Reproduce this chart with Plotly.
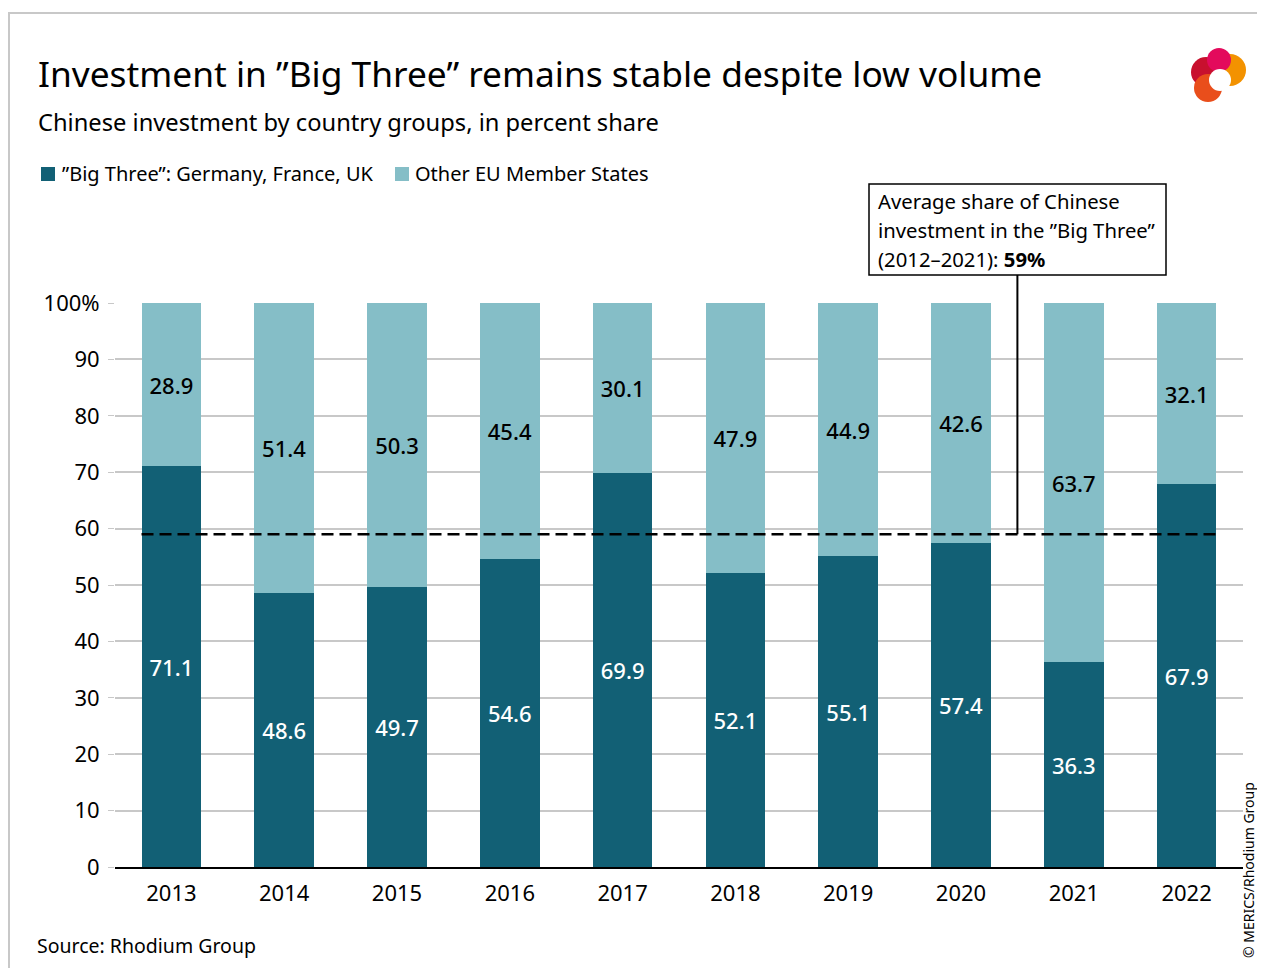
import plotly.graph_objects as go

years = ["2013", "2014", "2015", "2016", "2017", "2018", "2019", "2020", "2021", "2022"]
big_three = [71.1, 48.6, 49.7, 54.6, 69.9, 52.1, 55.1, 57.4, 36.3, 67.9]
other_eu = [28.9, 51.4, 50.3, 45.4, 30.1, 47.9, 44.9, 42.6, 63.7, 32.1]
average_share = 59
y_tickvals = [0, 10, 20, 30, 40, 50, 60, 70, 80, 90, 100]
y_ticktext = ["0", "10", "20", "30", "40", "50", "60", "70", "80", "90", "100%"]
series_names = ["\u201dBig Three\u201d: Germany, France, UK", "Other EU Member States"]
box_lines = ["Average share of Chinese",
             "investment in the \u201dBig Three\u201d",
             "(2012\u20132021): <b>59%</b>"]

DARK = "#126075"
LIGHT = "#85BEC7"
FONT = "Noto Sans"

# page is offset by the default 8px body margin on every side
OFF = 8
PAGE_W, PAGE_H = 1265, 976
W, H = PAGE_W - 2 * OFF, PAGE_H - 2 * OFF
# plot area in page pixels
PL, PR, PT, PB = 115, 1243, 303, 867
L, T = PL - OFF, PT - OFF
R, B = (OFF + W) - PR, (OFF + H) - PB
PW, PH = PR - PL, PB - PT


def px(x):
    return (x - PL) / PW


def py(y):
    return (PB - y) / PH


fig = go.Figure()
fig.add_trace(go.Bar(
    x=years, y=big_three, name=series_names[0],
    marker=dict(color=DARK, line=dict(width=0)),
    text=[f"{v:.1f}" for v in big_three], textposition="inside",
    insidetextanchor="middle", textfont=dict(color="white", size=22, family=FONT, weight=500),
))
fig.add_trace(go.Bar(
    x=years, y=other_eu, name=series_names[1],
    marker=dict(color=LIGHT, line=dict(width=0)),
    text=[f"{v:.1f}" for v in other_eu], textposition="inside",
    insidetextanchor="middle", textfont=dict(color="black", size=22, family=FONT, weight=500),
))

bar_frac = 0.53
n = len(years)
fig.add_shape(type="line", xref="x", yref="y",
              x0=-bar_frac / 2, x1=(n - 1) + bar_frac / 2,
              y0=average_share, y1=average_share,
              line=dict(color="black", width=2.5, dash="12px,6px"), layer="above")
conn_x = (7.5 + 0.5) / n
fig.add_shape(type="line", xref="paper", yref="paper",
              x0=conn_x, x1=conn_x, y0=average_share / 100, y1=py(275),
              line=dict(color="black", width=2), layer="above")

# annotation box
fig.add_shape(type="rect", xref="paper", yref="paper",
              x0=px(869), x1=px(1166), y0=py(275), y1=py(184),
              fillcolor="white", line=dict(color="black", width=1.5), layer="above")

# outer frame
fig.add_shape(type="line", xref="paper", yref="paper", x0=px(9), x1=px(9), y0=py(12), y1=py(990),
              line=dict(color="#c8c8c8", width=2))
fig.add_shape(type="line", xref="paper", yref="paper", x0=px(8), x1=px(1280), y0=py(13), y1=py(13),
              line=dict(color="#c8c8c8", width=2))

# manual legend
legend_items = [(41, 62, DARK), (395, 415, LIGHT)]
for (sx, tx, col), name in zip(legend_items, series_names):
    fig.add_shape(type="rect", xref="paper", yref="paper",
                  x0=px(sx), x1=px(sx + 14), y0=py(181), y1=py(167),
                  fillcolor=col, line=dict(width=0))


def circle(cx, cy, r, color):
    fig.add_shape(type="circle", xref="paper", yref="paper",
                  x0=px(cx - r), x1=px(cx + r), y0=py(cy + r), y1=py(cy - r),
                  fillcolor=color, line=dict(width=0), layer="above")


# logo (approximation)
circle(1230, 70, 16, "#F39200")
circle(1206, 72, 15, "#C8102E")
circle(1208, 88, 14, "#E94E1B")
circle(1219, 60, 12, "#E30A5C")
circle(1220, 80, 11, "white")

annotations = [
    dict(text="Investment in \u201dBig Three\u201d remains stable despite low volume",
         x=px(36), y=py(73), xref="paper", yref="paper", xanchor="left", yanchor="middle",
         showarrow=False, font=dict(size=35.3, color="black", family=FONT)),
    dict(text="Chinese investment by country groups, in percent share",
         x=px(36), y=py(122), xref="paper", yref="paper", xanchor="left", yanchor="middle",
         showarrow=False, font=dict(size=23.7, color="black", family=FONT)),
    dict(text="Source: Rhodium Group",
         x=px(35), y=py(945), xref="paper", yref="paper", xanchor="left", yanchor="middle",
         showarrow=False, font=dict(size=19.5, color="black", family=FONT)),
    dict(text="\u00a9 MERICS/Rhodium Group", textangle=-90,
         x=px(1248), y=py(870), xref="paper", yref="paper", xanchor="center", yanchor="middle",
         showarrow=False, font=dict(size=14, color="black", family=FONT)),
]
for i, line in enumerate(box_lines):
    annotations.append(dict(text=line, x=px(876), y=py(201 + 29 * i), xref="paper", yref="paper",
                            xanchor="left", yanchor="middle", showarrow=False,
                            font=dict(size=20.3, color="black", family=FONT)))
for (sx, tx, col), name in zip(legend_items, series_names):
    annotations.append(dict(text=name, x=px(tx - 2), y=py(174), xref="paper", yref="paper",
                            xanchor="left", yanchor="middle", showarrow=False,
                            font=dict(size=20, color="black", family=FONT)))

fig.update_layout(
    width=W, height=H, barmode="stack", bargap=1 - bar_frac,
    margin=dict(l=L, r=R, t=T, b=B, autoexpand=False),
    plot_bgcolor="white", paper_bgcolor="white",
    font=dict(family=FONT, size=20, color="black"),
    showlegend=False,
    annotations=annotations,
)
fig.update_xaxes(showline=True, linecolor="black", linewidth=2, ticks="",
                 ticklabelstandoff=6,
                 tickfont=dict(size=22, family=FONT), showgrid=False)
fig.update_yaxes(range=[0, 100], tickvals=y_tickvals, ticktext=y_ticktext,
                 showgrid=True, gridcolor="#c8c8c8", gridwidth=1.5, zeroline=False,
                 ticks="outside", ticklen=6, tickcolor="#c8c8c8", ticklabelstandoff=4,
                 tickfont=dict(size=22, family=FONT))

fig.write_html("out.html")
